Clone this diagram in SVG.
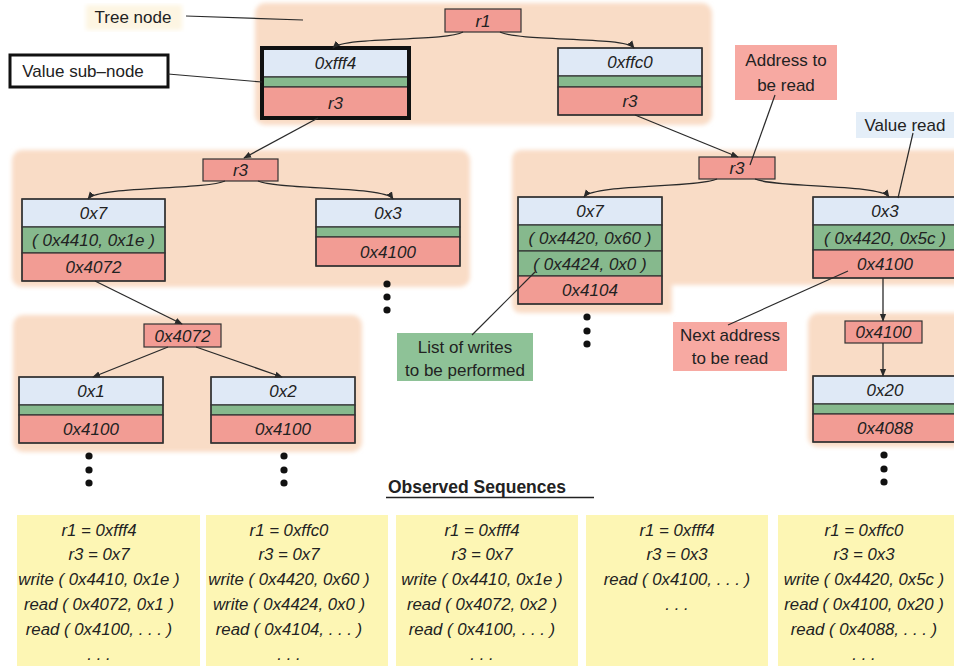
<svg xmlns="http://www.w3.org/2000/svg" width="954" height="666" viewBox="0 0 954 666">
  <style>
    .bg { fill: #f9dcc6; }
    .blue { fill: #dfe9f6; stroke: #333; stroke-width: 1.2; }
    .green { fill: #86b98d; stroke: #333; stroke-width: 1.2; }
    .red { fill: #f29c94; stroke: #333; stroke-width: 1.2; }
    .frame { fill: none; stroke: #333; stroke-width: 1.4; }
    .v { font-family: "Liberation Sans", Arial, sans-serif; font-style: italic; font-size: 17px; fill: #222; text-anchor: middle; }
    .lbl { font-family: "Liberation Sans", Arial, sans-serif; font-size: 17px; fill: #222; text-anchor: middle; }
    .seq { font-family: "Liberation Sans", Arial, sans-serif; font-style: italic; font-size: 16.8px; fill: #222; text-anchor: middle; }
    .ybox { fill: #fdf6b4; }
    .edge { fill: none; stroke: #2a2a2a; stroke-width: 1.3; }
    .ptr { fill: none; stroke: #2a2a2a; stroke-width: 1.2; }
    .dot { fill: #111; }
  </style>
  <defs>
    <marker id="arr" viewBox="0 0 10 10" refX="9" refY="5" markerWidth="6" markerHeight="6" orient="auto">
      <path d="M0,1 L10,5 L0,9 Z" fill="#2a2a2a"/>
    </marker>
    <filter id="soft" x="-5%" y="-5%" width="110%" height="110%">
      <feGaussianBlur stdDeviation="2"/>
    </filter>
  </defs>

  <rect width="954" height="666" fill="#ffffff"/>

  <!-- shaded tree-node regions -->
  <g id="regions" filter="url(#soft)">
    <rect class="bg" x="255" y="3" width="457" height="122" rx="10"/>
    <rect class="bg" x="12" y="150" width="458" height="137" rx="10"/>
    <rect class="bg" x="13" y="315" width="349" height="137" rx="10"/>
    <path class="bg" d="M522,150 H960 V285 H672 V313 H522 Q512,313 512,303 V160 Q512,150 522,150 Z"/>
    <rect class="bg" x="808" y="313" width="160" height="134" rx="10"/>
  </g>

  <!-- root selector -->
  <g id="n_r1">
    <rect class="red" x="445" y="9" width="76" height="23"/>
    <text class="v" x="483" y="26.5">r1</text>
  </g>

  <!-- level 1 value sub-nodes -->
  <g id="n_fff4">
    <rect class="blue" x="262" y="48" width="147" height="29"/>
    <rect class="green" x="262" y="77" width="147" height="10"/>
    <rect class="red" x="262" y="87" width="147" height="31"/>
    <rect x="262" y="48" width="147" height="70" fill="none" stroke="#111" stroke-width="4"/>
    <text class="v" x="335.5" y="68.5">0xfff4</text>
    <text class="v" x="335.5" y="108.5">r3</text>
  </g>
  <g id="n_ffc0">
    <rect class="blue" x="558" y="48" width="144" height="28"/>
    <rect class="green" x="558" y="76" width="144" height="11"/>
    <rect class="red" x="558" y="87" width="144" height="28"/>
    <rect class="frame" x="558" y="48" width="144" height="67"/>
    <text class="v" x="630" y="68">0xffc0</text>
    <text class="v" x="630" y="107">r3</text>
  </g>

  <!-- level 2, left branch -->
  <g id="n_r3_left">
    <rect class="red" x="203" y="159" width="75" height="22"/>
    <text class="v" x="240.5" y="176">r3</text>
  </g>
  <g id="n_0x7_left">
    <rect class="blue" x="22" y="199" width="143" height="28"/>
    <rect class="green" x="22" y="227" width="143" height="26"/>
    <rect class="red" x="22" y="253" width="143" height="28"/>
    <rect class="frame" x="22" y="199" width="143" height="82"/>
    <text class="v" x="93.5" y="219">0x7</text>
    <text class="v" x="93.5" y="246">( 0x4410, 0x1e )</text>
    <text class="v" x="93.5" y="273">0x4072</text>
  </g>
  <g id="n_0x3_left">
    <rect class="blue" x="316" y="199" width="144" height="28"/>
    <rect class="green" x="316" y="227" width="144" height="10"/>
    <rect class="red" x="316" y="237" width="144" height="29"/>
    <rect class="frame" x="316" y="199" width="144" height="67"/>
    <text class="v" x="388" y="219">0x3</text>
    <text class="v" x="388" y="257.5">0x4100</text>
  </g>

  <!-- level 3, left branch -->
  <g id="n_0x4072">
    <rect class="red" x="144" y="324" width="77" height="23"/>
    <text class="v" x="182.5" y="341.5">0x4072</text>
  </g>
  <g id="n_0x1">
    <rect class="blue" x="19" y="377" width="144" height="28"/>
    <rect class="green" x="19" y="405" width="144" height="10"/>
    <rect class="red" x="19" y="415" width="144" height="28"/>
    <rect class="frame" x="19" y="377" width="144" height="66"/>
    <text class="v" x="91" y="397">0x1</text>
    <text class="v" x="91" y="435">0x4100</text>
  </g>
  <g id="n_0x2">
    <rect class="blue" x="211" y="377" width="144" height="28"/>
    <rect class="green" x="211" y="405" width="144" height="10"/>
    <rect class="red" x="211" y="415" width="144" height="28"/>
    <rect class="frame" x="211" y="377" width="144" height="66"/>
    <text class="v" x="283" y="397">0x2</text>
    <text class="v" x="283" y="435">0x4100</text>
  </g>

  <!-- level 2, right branch -->
  <g id="n_r3_right">
    <rect class="red" x="699" y="157" width="76" height="22"/>
    <text class="v" x="737" y="174">r3</text>
  </g>
  <g id="n_0x7_right">
    <rect class="blue" x="518" y="197" width="144" height="28"/>
    <rect class="green" x="518" y="225" width="144" height="26"/>
    <rect class="green" x="518" y="251" width="144" height="25"/>
    <rect class="red" x="518" y="276" width="144" height="28"/>
    <rect class="frame" x="518" y="197" width="144" height="107"/>
    <text class="v" x="590" y="217">0x7</text>
    <text class="v" x="590" y="244">( 0x4420, 0x60 )</text>
    <text class="v" x="590" y="269.5">( 0x4424, 0x0 )</text>
    <text class="v" x="590" y="296">0x4104</text>
  </g>
  <g id="n_0x3_right">
    <rect class="blue" x="813" y="197" width="144" height="28"/>
    <rect class="green" x="813" y="225" width="144" height="25"/>
    <rect class="red" x="813" y="250" width="144" height="28"/>
    <rect class="frame" x="813" y="197" width="144" height="81"/>
    <text class="v" x="885" y="217">0x3</text>
    <text class="v" x="885" y="243.5">( 0x4420, 0x5c )</text>
    <text class="v" x="885" y="270">0x4100</text>
  </g>

  <!-- level 3, right branch -->
  <g id="n_0x4100">
    <rect class="red" x="845" y="321" width="77" height="22"/>
    <text class="v" x="883.5" y="338">0x4100</text>
  </g>
  <g id="n_0x20">
    <rect class="blue" x="813" y="376" width="144" height="28"/>
    <rect class="green" x="813" y="404" width="144" height="10"/>
    <rect class="red" x="813" y="414" width="144" height="28"/>
    <rect class="frame" x="813" y="376" width="144" height="66"/>
    <text class="v" x="885" y="396">0x20</text>
    <text class="v" x="885" y="434">0x4088</text>
  </g>

  <!-- continuation dots -->
  <g id="continuations">
    <circle class="dot" cx="387" cy="284" r="3.6"/>
    <circle class="dot" cx="387" cy="297" r="3.6"/>
    <circle class="dot" cx="387" cy="310" r="3.6"/>
    <circle class="dot" cx="587" cy="317" r="3.6"/>
    <circle class="dot" cx="587" cy="331" r="3.6"/>
    <circle class="dot" cx="587" cy="344" r="3.6"/>
    <circle class="dot" cx="89" cy="456" r="3.6"/>
    <circle class="dot" cx="89" cy="470" r="3.6"/>
    <circle class="dot" cx="89" cy="483" r="3.6"/>
    <circle class="dot" cx="284" cy="456" r="3.6"/>
    <circle class="dot" cx="284" cy="470" r="3.6"/>
    <circle class="dot" cx="284" cy="483" r="3.6"/>
    <circle class="dot" cx="884" cy="455" r="3.6"/>
    <circle class="dot" cx="884" cy="469" r="3.6"/>
    <circle class="dot" cx="884" cy="482" r="3.6"/>
  </g>

  <!-- tree edges -->
  <g id="connectors">
    <path class="edge" marker-end="url(#arr)" d="M463,32 C445,42 345,36 333,48"/>
    <path class="edge" marker-end="url(#arr)" d="M500,32 C520,42 625,36 634,48"/>
    <path class="edge" marker-end="url(#arr)" d="M318,118 L244,158"/>
    <path class="edge" marker-end="url(#arr)" d="M635,115 L738,157"/>
    <path class="edge" marker-end="url(#arr)" d="M225,181 C205,190 98,186 88,199"/>
    <path class="edge" marker-end="url(#arr)" d="M258,181 C278,190 385,186 393,199"/>
    <path class="edge" marker-end="url(#arr)" d="M95,281 L182,324"/>
    <path class="edge" marker-end="url(#arr)" d="M168,347 L93,377"/>
    <path class="edge" marker-end="url(#arr)" d="M196,347 L282,377"/>
    <path class="edge" marker-end="url(#arr)" d="M717,179 C697,188 594,184 584,197"/>
    <path class="edge" marker-end="url(#arr)" d="M755,179 C775,188 880,184 889,197"/>
    <path class="edge" marker-end="url(#arr)" d="M883,278 L883,321"/>
    <path class="edge" marker-end="url(#arr)" d="M883,343 L883,376"/>
  </g>

  <!-- annotations -->
  <g id="label_tree_node">
    <rect x="86" y="5" width="96" height="25" fill="#fdf5e2" filter="url(#soft)"/>
    <text class="lbl" x="133" y="23">Tree node</text>
    <path class="ptr" d="M186,16 L303,20"/>
  </g>
  <g id="label_value_subnode">
    <rect x="10" y="55" width="158" height="32" fill="#ffffff" stroke="#111" stroke-width="3"/>
    <text class="lbl" x="83" y="77">Value sub–node</text>
    <path class="ptr" d="M168,74 L262,82"/>
  </g>
  <g id="label_address">
    <rect x="735" y="45" width="102" height="55" fill="#f7a9a2"/>
    <text class="lbl" x="786" y="66">Address to</text>
    <text class="lbl" x="786" y="91">be read</text>
    <path class="ptr" d="M775,95 L750,165"/>
  </g>
  <g id="label_value_read">
    <rect x="856" y="112" width="98" height="26" fill="#e4eef8"/>
    <text class="lbl" x="905" y="131">Value read</text>
    <path class="ptr" d="M913,133 L898,198"/>
  </g>
  <g id="label_writes">
    <rect x="397" y="333" width="136" height="48" fill="#8ec297"/>
    <text class="lbl" x="465" y="353">List of writes</text>
    <text class="lbl" x="465" y="376">to be performed</text>
    <path class="ptr" d="M472,335 L535,272"/>
  </g>
  <g id="label_next">
    <rect x="673" y="322" width="114" height="49" fill="#f7a9a2"/>
    <text class="lbl" x="730" y="341">Next address</text>
    <text class="lbl" x="730" y="364">to be read</text>
    <path class="ptr" d="M728,325 L848,271"/>
  </g>

  <!-- observed sequences -->
  <g id="observed">
    <text x="388" y="493" font-family="Liberation Sans, Arial, sans-serif" font-size="17.5" font-weight="bold" fill="#222">Observed Sequences</text>
    <path d="M386,497.5 H594" stroke="#222" stroke-width="1.3"/>
  </g>
  <g id="seq1">
    <rect class="ybox" x="17" y="515" width="183" height="151"/>
    <text class="seq" x="99" y="536">r1 = 0xfff4</text>
    <text class="seq" x="99" y="560">r3 = 0x7</text>
    <text class="seq" x="99" y="585">write ( 0x4410, 0x1e )</text>
    <text class="seq" x="99" y="610">read ( 0x4072, 0x1 )</text>
    <text class="seq" x="99" y="635">read ( 0x4100, . . . )</text>
    <text class="seq" x="99" y="660">. . .</text>
  </g>
  <g id="seq2">
    <rect class="ybox" x="206" y="515" width="182" height="151"/>
    <text class="seq" x="289" y="536">r1 = 0xffc0</text>
    <text class="seq" x="289" y="560">r3 = 0x7</text>
    <text class="seq" x="289" y="585">write ( 0x4420, 0x60 )</text>
    <text class="seq" x="289" y="610">write ( 0x4424, 0x0 )</text>
    <text class="seq" x="289" y="635">read ( 0x4104, . . . )</text>
    <text class="seq" x="289" y="660">. . .</text>
  </g>
  <g id="seq3">
    <rect class="ybox" x="396" y="515" width="182" height="151"/>
    <text class="seq" x="482" y="536">r1 = 0xfff4</text>
    <text class="seq" x="482" y="560">r3 = 0x7</text>
    <text class="seq" x="482" y="585">write ( 0x4410, 0x1e )</text>
    <text class="seq" x="482" y="610">read ( 0x4072, 0x2 )</text>
    <text class="seq" x="482" y="635">read ( 0x4100, . . . )</text>
    <text class="seq" x="482" y="660">. . .</text>
  </g>
  <g id="seq4">
    <rect class="ybox" x="586" y="515" width="182" height="151"/>
    <text class="seq" x="677" y="536">r1 = 0xfff4</text>
    <text class="seq" x="677" y="560">r3 = 0x3</text>
    <text class="seq" x="677" y="585">read ( 0x4100, . . . )</text>
    <text class="seq" x="677" y="610">. . .</text>
  </g>
  <g id="seq5">
    <rect class="ybox" x="778" y="515" width="176" height="151"/>
    <text class="seq" x="864" y="536">r1 = 0xffc0</text>
    <text class="seq" x="864" y="560">r3 = 0x3</text>
    <text class="seq" x="864" y="585">write ( 0x4420, 0x5c )</text>
    <text class="seq" x="864" y="610">read ( 0x4100, 0x20 )</text>
    <text class="seq" x="864" y="635">read ( 0x4088, . . . )</text>
    <text class="seq" x="864" y="660">. . .</text>
  </g>
</svg>
